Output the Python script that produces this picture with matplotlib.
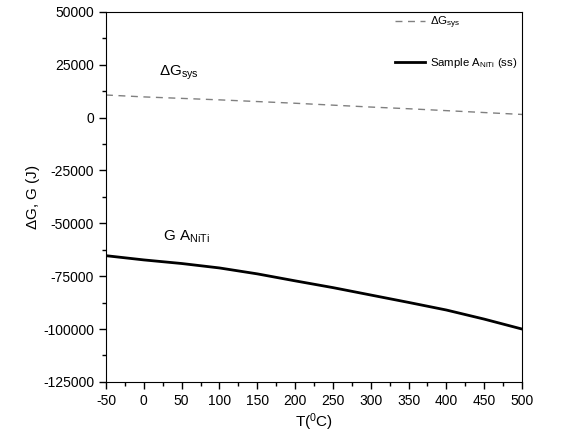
import numpy as np
import matplotlib
matplotlib.use('Agg')
import matplotlib.pyplot as plt
from matplotlib.ticker import MultipleLocator

plt.rcParams['font.family'] = ['Liberation Sans', 'DejaVu Sans']
plt.rcParams['mathtext.fontset'] = 'custom'
plt.rcParams['mathtext.rm'] = 'Liberation Sans'
plt.rcParams['mathtext.it'] = 'Liberation Sans:italic'
plt.rcParams['axes.unicode_minus'] = False

# values
temps = [-50, 0, 50, 100, 150, 200, 250, 300, 350, 400, 450, 500]
dg_sys = [10700, 9800, 9100, 8400, 7600, 6800, 5900, 5000, 4200, 3300, 2400, 1500]
g_aniti = [-65300, -67300, -69000, -71100, -73900, -77200, -80400, -83900, -87400, -91000, -95300, -100000]

fig = plt.figure(figsize=(5.79, 4.41), dpi=100)
ax = fig.add_axes([0.183, 0.134, 0.7186, 0.839])

ax.plot(temps, dg_sys, '--', color='#808080', linewidth=1.0, dashes=(5, 4),
        label=r'$\Delta$G$_{\rm sys}$')
ax.plot(temps, g_aniti, '-', color='black', linewidth=2.0,
        label=r'Sample A$_{\rm NiTi}$ (ss)')

ax.set_xlim(-50, 500)
ax.set_ylim(-125000, 50000)
ax.xaxis.set_major_locator(MultipleLocator(50))
ax.xaxis.set_minor_locator(MultipleLocator(25))
ax.yaxis.set_major_locator(MultipleLocator(25000))
ax.yaxis.set_minor_locator(MultipleLocator(12500))
ax.tick_params(which='both', direction='out', top=False, right=False, labelsize=10)
ax.tick_params(which='major', length=5, width=1)
ax.tick_params(which='minor', length=3, width=1)

ax.set_xlabel(r'T($^{\rm 0}$C)', fontsize=11, labelpad=3)
ax.set_ylabel(r'$\Delta$G, G (J)', fontsize=11, labelpad=1)

ax.text(20, 20000, r'$\Delta$G$_{\rm sys}$', fontsize=11)
ax.text(25, -58000, r'G A$_{\rm NiTi}$', fontsize=11)

leg = ax.legend(loc='upper left', frameon=False, fontsize=8.2, labelspacing=2.2,
                handlelength=2.6, handletextpad=0.45, bbox_to_anchor=(0.67, 1.02))

fig.savefig('out.png', dpi=100)
